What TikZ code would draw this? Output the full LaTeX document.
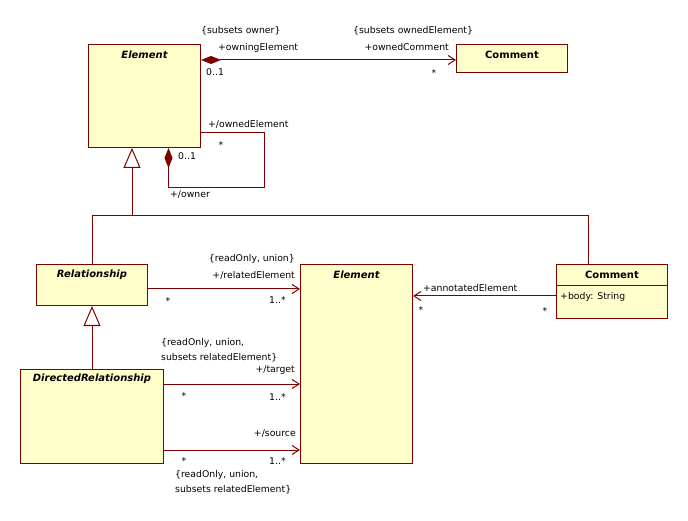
\documentclass[tikz,border=0pt]{standalone}
\usepackage{fontspec}
\setmainfont{DejaVu Sans}
\usetikzlibrary{arrows.meta,positioning}
\definecolor{umlred}{RGB}{128,0,0}
\definecolor{umlfill}{RGB}{255,255,204}

\begin{document}
\begin{tikzpicture}[x=1pt,y=-1pt,
  font=\fontsize{9.3pt}{15pt}\selectfont,
  classbox/.style={draw=umlred,fill=umlfill,line width=1pt,anchor=north west,inner sep=0pt},
  classname/.style={font=\fontsize{10pt}{11pt}\selectfont\bfseries},
  abstractname/.style={font=\fontsize{10pt}{11pt}\selectfont\bfseries\itshape},
  lbl/.style={inner sep=0pt,align=left},
  plainline/.style={draw=umlred,line width=1pt},
  assoc/.style={plainline,-{Straight Barb[length=7pt,width=9pt]}},
  comp/.style={plainline,{Diamond[length=20pt,width=8pt,fill=umlred]}-},
  compnav/.style={plainline,{Diamond[length=20pt,width=8pt,fill=umlred]}-{Straight Barb[length=7pt,width=9pt]}},
  gen/.style={plainline,-{Triangle[open,length=20pt,width=17pt,fill=white]}}]

\useasboundingbox (0,0) rectangle (688,521);

% classes
\node[classbox,minimum width=112pt,minimum height=103pt] (element) at (88,44) {};
\node[abstractname] (elementName) at ([yshift=-11pt]element.north) {Element};

\node[classbox,minimum width=111pt,minimum height=28pt] (comment) at (456,44) {};
\node[classname] (commentName) at ([yshift=-11pt]comment.north) {Comment};

\node[classbox,minimum width=111pt,minimum height=41pt] (relationship) at (36,264) {};
\node[abstractname] (relationshipName) at ([yshift=-11pt]relationship.north) {Relationship};

\node[classbox,minimum width=143pt,minimum height=94pt] (directed) at (20,369) {};
\node[abstractname] (directedName) at ([yshift=-10pt]directed.north) {DirectedRelationship};

\node[classbox,minimum width=112pt,minimum height=199pt] (relElement) at (300,264) {};
\node[abstractname] (relElementName) at ([yshift=-11pt]relElement.north) {Element};

\node[classbox,minimum width=111pt,minimum height=54pt] (annComment) at (556,264) {};
\node[classname] (annCommentName) at ([yshift=-11pt]annComment.north) {Comment};
\draw[plainline] ([yshift=-22pt]annComment.north west) -- ([yshift=-22pt]annComment.north east);
\node[lbl,anchor=west] (bodyAttr) at (560,297) {+body: String};

% owned comment
\coordinate (ownOut) at ([yshift=-16pt]element.north east);
\draw[compnav] (ownOut) -- (ownOut -| comment.west);
\node[lbl,anchor=west] (ownerSub) at (201,31) {\{subsets owner\}};
\node[lbl,anchor=west] (owningLbl) at (218,48) {+owningElement};
\node[lbl,anchor=west] (owningMul) at (206,72) {0..1};
\node[lbl,anchor=west] (ownedSub) at (353,31) {\{subsets ownedElement\}};
\node[lbl,anchor=east] (ownedLbl) at (449,47) {+ownedComment};
\node[lbl] (ownedMul) at (434,73) {*};

% owner / ownedElement
\coordinate (loopCorner) at (264,188);
\draw[comp] ([xshift=24pt]element.south) |- (loopCorner) |- ([yshift=15pt]element.south east);
\node[lbl,anchor=west] (ownedElemLbl) at (208,124) {+/ownedElement};
\node[lbl] (ownedElemMul) at (221,145) {*};
\node[lbl,anchor=west] (ownerMul) at (178,156) {0..1};
\node[lbl,anchor=west] (ownerLbl) at (170,195) {+/owner};

% generalizations
\coordinate (genJoin) at (132,216);
\draw[gen] (relationship.north) |- (genJoin) -- (genJoin |- element.south);
\draw[plainline] ([xshift=-23.5pt]annComment.north) |- (genJoin);
\draw[gen] (directed.north) -- (relationship.south);

% relatedElement
\coordinate (relOut) at ([yshift=-25pt]relationship.north east);
\draw[assoc] (relOut) -- (relOut -| relElement.west);
\node[lbl,anchor=east] (relSub) at (295,259) {\{readOnly, union\}};
\node[lbl,anchor=east] (relLbl) at (295,275) {+/relatedElement};
\node[lbl] (relMulA) at (168,301) {*};
\node[lbl,anchor=west] (relMulB) at (269,300) {1..*};

% target
\coordinate (tgtOut) at ([yshift=-15pt]directed.north east);
\draw[assoc] (tgtOut) -- (tgtOut -| relElement.west);
\node[lbl,anchor=west] (tgtSub) at (161,350.5) {\{readOnly, union,\\subsets relatedElement\}};
\node[lbl,anchor=east] (tgtLbl) at (295,370) {+/target};
\node[lbl] (tgtMulA) at (184,396) {*};
\node[lbl,anchor=west] (tgtMulB) at (269,397) {1..*};

% source
\coordinate (srcOut) at ([yshift=14pt]directed.south east);
\draw[assoc] (srcOut) -- (srcOut -| relElement.west);
\node[lbl,anchor=east] (srcLbl) at (296,434) {+/source};
\node[lbl] (srcMulA) at (184,461) {*};
\node[lbl,anchor=west] (srcMulB) at (269,461) {1..*};
\node[lbl,anchor=west] (srcSub) at (175,482.5) {\{readOnly, union,\\subsets relatedElement\}};

% annotatedElement
\coordinate (annOut) at ([yshift=-32pt]annComment.north west);
\draw[assoc] (annOut) -- (annOut -| relElement.east);
\node[lbl,anchor=west] (annLbl) at (423,288) {+annotatedElement};
\node[lbl] (annMulA) at (421,310) {*};
\node[lbl] (annMulB) at (545,311) {*};
\end{tikzpicture}
\end{document}
